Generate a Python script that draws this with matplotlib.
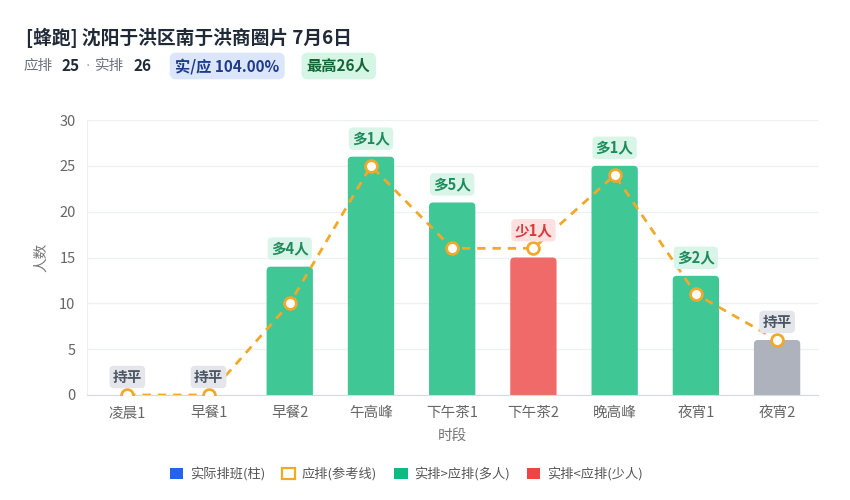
import matplotlib
matplotlib.use("Agg")
import matplotlib.pyplot as plt
from matplotlib.patches import FancyBboxPatch, Patch

plt.rcParams['font.family'] = ['Noto Sans CJK SC', 'DejaVu Sans']

slots = ['凌晨1', '早餐1', '早餐2', '午高峰', '下午茶1', '下午茶2', '晚高峰', '夜宵1', '夜宵2']
actual = [0, 0, 14, 26, 21, 15, 25, 13, 6]
planned = [0, 0, 10, 25, 16, 16, 24, 11, 6]

GREEN = '#3fc795'
RED = '#f06a6a'
GRAY = '#adb2bd'
ORANGE = '#f0a92a'

fig = plt.figure(figsize=(8.5, 5), dpi=100)
ax = fig.add_axes([0.102, 0.21, 0.86, 0.55])

x = list(range(len(slots)))
for i, (a, p) in enumerate(zip(actual, planned)):
    diff = a - p
    if diff > 0:
        col, txt, bg, fg = GREEN, f'多{diff}人', '#d8f5e8', '#1f8a5b'
    elif diff < 0:
        col, txt, bg, fg = RED, f'少{-diff}人', '#fde0e0', '#d93a3a'
    else:
        col, txt, bg, fg = GRAY, '持平', '#e4e6eb', '#4b5563'
    if a > 0:
        # rounded top corners; the bottom part is clipped by the axes
        ax.add_patch(FancyBboxPatch((i - 0.285, -1), 0.57, a + 1,
                                    boxstyle='round,pad=0,rounding_size=0.05',
                                    mutation_aspect=8.8,
                                    fc=col, ec='none', zorder=2))
    ax.annotate(txt, (i, max(a, p)), xytext=(0, 13), textcoords='offset points',
                ha='center', va='center', fontsize=10.5, fontweight='bold', color=fg,
                bbox=dict(boxstyle='round,pad=0.22,rounding_size=0.3', fc=bg, ec='none'),
                zorder=5)

ax.plot(x, planned, color=ORANGE, lw=2, ls=(0, (3, 2.5)), zorder=3)
ax.plot(x, planned, ls='none', marker='o', ms=8.5, mfc='white', mec=ORANGE, mew=2, zorder=4)

ax.set_xlim(-0.5, len(slots) - 0.5)
ax.set_ylim(0, 30)
ax.set_yticks([0, 5, 10, 15, 20, 25, 30])
ax.set_xticks(x)
ax.set_xticklabels(slots)
ax.tick_params(axis='both', length=0, colors='#666666', labelsize=10.5, pad=8)
ax.grid(axis='y', color='#eef0f3', lw=1, zorder=0)
ax.set_axisbelow(True)
for s in ['top', 'right']:
    ax.spines[s].set_visible(False)
ax.spines['left'].set_color('#eeeeee')
ax.spines['bottom'].set_color('#d6d9de')
ax.set_ylabel('人数', color='#777777', fontsize=10.5, labelpad=8)
ax.set_xlabel('时段', color='#777777', fontsize=10.5, labelpad=6)

fig.text(0.031, 0.924, '[蜂跑] 沈阳于洪区南于洪商圈片 7月6日', fontsize=13.5,
         fontweight='bold', color='#1f2937', va='center')
fig.text(0.028, 0.868, '应排', fontsize=10.5, color='#6b7280', va='center')
fig.text(0.072, 0.868, '25', fontsize=11, fontweight='bold', color='#1f2937', va='center')
fig.text(0.1035, 0.868, '·', fontsize=10, color='#9ca3af', va='center', ha='center',
         family='DejaVu Sans')
fig.text(0.112, 0.868, '实排', fontsize=10.5, color='#6b7280', va='center')
fig.text(0.157, 0.868, '26', fontsize=11, fontweight='bold', color='#1f2937', va='center')
fig.text(0.206, 0.868, '实/应 104.00%', fontsize=11, fontweight='bold', color='#1e3a8a',
         va='center', bbox=dict(boxstyle='round,pad=0.35,rounding_size=0.4', fc='#dbe6fb', ec='none'))
fig.text(0.361, 0.868, '最高26人', fontsize=11, fontweight='bold', color='#166534',
         va='center', bbox=dict(boxstyle='round,pad=0.35,rounding_size=0.4', fc='#d5f5e5', ec='none'))

handles = [
    Patch(fc='#2563eb', ec='none', label='实际排班(柱)'),
    Patch(fc='white', ec=ORANGE, lw=1.6, label='应排(参考线)'),
    Patch(fc='#10b981', ec='none', label='实排>应排(多人)'),
    Patch(fc='#ef4444', ec='none', label='实排<应排(少人)'),
]
fig.legend(handles=handles, loc='center', bbox_to_anchor=(0.478, 0.052), ncol=4,
           frameon=False, fontsize=9.5, handlelength=1.0, handleheight=1.0,
           handletextpad=0.5, columnspacing=1.3, labelcolor='#555555')

fig.savefig('out.png', dpi=100)
